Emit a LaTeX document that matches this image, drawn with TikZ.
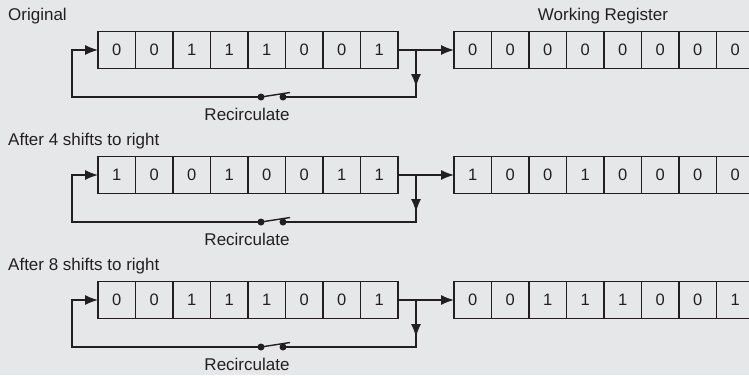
\documentclass[tikz,border=0pt]{standalone}
\usepackage{fontspec}
\setmainfont{Liberation Sans}
\usetikzlibrary{positioning, calc, arrows.meta}

\definecolor{ink}{HTML}{231F20}
\definecolor{paper}{HTML}{E6E7E8}

\tikzset{
  cell/.style={draw=ink, line width=1.7pt, minimum width=37.5pt, minimum height=37pt,
    inner sep=0pt, outer sep=0pt, text=ink, font=\fontsize{16.5}{19}\selectfont},
  wire/.style={draw=ink, line width=1.4pt},
  tip/.style={-{Latex[length=13pt,width=10pt]}},
  contact/.style={circle, fill=ink, inner sep=0pt, minimum size=7pt},
  lbl/.style={text=ink, inner sep=1pt, font=\fontsize{17}{20}\selectfont}
}

\begin{document}
\begin{tikzpicture}[x=1pt,y=-1pt]

  % background and page size
  \fill[paper] (0,0) rectangle (749,375);
  \useasboundingbox (0,0) rectangle (749,375);
  \clip (0,0) rectangle (749,375);

  \node[lbl] (wreg) at (603,16) {Working Register};

  % one row per state of the registers
  \foreach \r/\name/\srcbits/\wrkbits in {
      0/Original/{0,0,1,1,1,0,0,1}/{0,0,0,0,0,0,0,0},
      1/After 4 shifts to right/{1,0,0,1,0,0,1,1}/{1,0,0,1,0,0,0,0},
      2/After 8 shifts to right/{0,0,1,1,1,0,0,1}/{0,0,1,1,1,0,0,1}}
  {
    \pgfmathsetmacro{\yc}{50+125*\r}

    \node[lbl, anchor=west] (title\r) at (7,\yc-34) {\name};

    % source register and working register
    \foreach \b [count=\i] in \srcbits
      \node[cell] (s\r-\i) at (79.25+37.5*\i,\yc) {\b};
    \foreach \b [count=\i] in \wrkbits
      \node[cell] (w\r-\i) at (435.25+37.5*\i,\yc) {\b};

    % shift out into the working register
    \draw[wire, tip] (s\r-8.east) -- (w\r-1.west);

    % recirculation loop
    \coordinate (br\r) at ([xshift=18pt]s\r-8.east);
    \coordinate (cr\r) at ([yshift=-47pt]br\r);
    \coordinate (cl\r) at ([xshift=-26pt]s\r-1.west |- cr\r);
    \node[contact] (swl\r) at (261,\yc+47) {};
    \node[contact] (swr\r) at (283,\yc+47) {};

    \draw[wire, tip] (br\r) -- ([yshift=-37pt]br\r);
    \draw[wire] (br\r) -- (cr\r) -- (swr\r.center);
    \draw[wire, tip] (swl\r.center) -- (cl\r) -- (cl\r |- s\r-1.west) -- (s\r-1.west);
    \draw[wire] (swl\r.center) -- ++(29,-4.5);

    \node[lbl] (rc\r) at (247,\yc+64.5) {Recirculate};
  }

\end{tikzpicture}
\end{document}
